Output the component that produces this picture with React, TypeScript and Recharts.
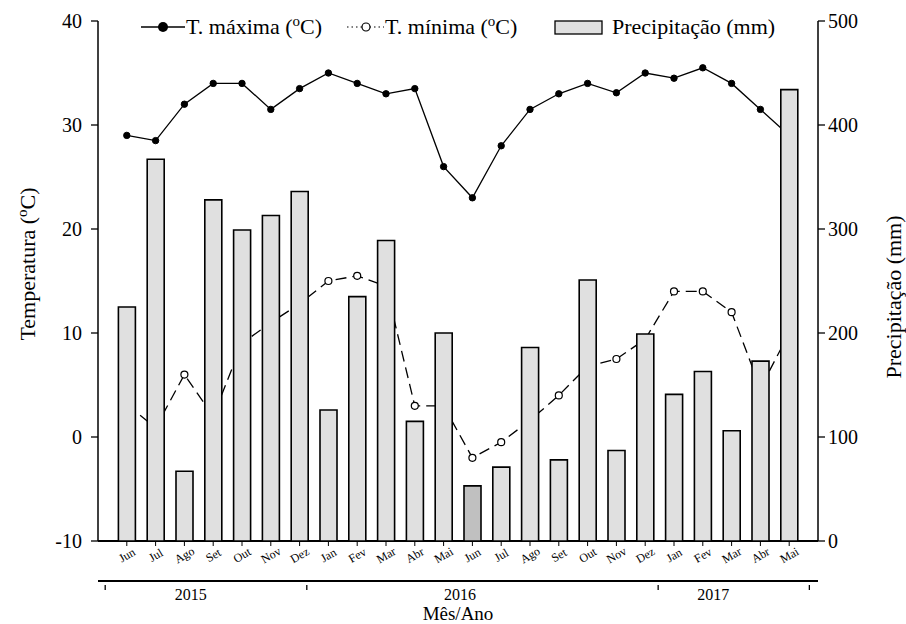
import React from 'react';
import { Bar, Cell, ComposedChart, Label, Line, XAxis, YAxis } from 'recharts';

const FONT = "'Liberation Serif', 'Times New Roman', Times, serif";
const INK = '#000';
const BAR_FILL = '#e0e0e0';
const BAR_FILL_DARK = '#c0c0c0';

const W = 906;
const H = 624;
// plot box shared by both layers
const PLOT = { top: 21, left: 98, right: 88, bottom: 83 };

// Jun/2015 .. Mai/2017, one entry per month
const MONTHS = [
  'Jun', 'Jul', 'Ago', 'Set', 'Out', 'Nov', 'Dez', 'Jan', 'Fev', 'Mar', 'Abr', 'Mai',
  'Jun', 'Jul', 'Ago', 'Set', 'Out', 'Nov', 'Dez', 'Jan', 'Fev', 'Mar', 'Abr', 'Mai',
];
const T_MAX = [
  29.0, 28.5, 32.0, 34.0, 34.0, 31.5, 33.5, 35.0, 34.0, 33.0, 33.5, 26.0,
  23.0, 28.0, 31.5, 33.0, 34.0, 33.1, 35.0, 34.5, 35.5, 34.0, 31.5, 29.0,
];
const T_MIN = [
  3.1, 0.9, 6.0, 2.0, 9.0, 11.0, 12.8, 15.0, 15.5, 14.5, 3.0, 3.0,
  -2.0, -0.5, 1.6, 4.0, 6.8, 7.5, 9.4, 14.0, 14.0, 12.0, 4.7, 10.0,
];
const PRECIP = [
  225, 367, 67, 328, 299, 313, 336, 126, 235, 289, 115, 200,
  53, 71, 186, 78, 251, 87, 199, 141, 163, 106, 173, 434,
];
// Jun/2016 bar is shaded darker
const DARK_BARS = [12];

const TEMP_TICKS = [-10, 0, 10, 20, 30, 40];
const PRECIP_TICKS = [0, 100, 200, 300, 400, 500];

// year band on the lower axis: separator marks and label positions (axis units)
const YEAR_BOUNDS = [0.25, 7.25, 19.45, 24.7];
const YEAR_MIDS = [3.22, 12.57, 21.36];
const YEARS = ['2015', '2016', '2017'];

const data = MONTHS.map((m, i) => ({
  pos: i + 1,
  month: m,
  tmax: T_MAX[i],
  tmin: T_MIN[i],
  precip: PRECIP[i],
}));
const MONTH_TICKS = data.map((d) => d.pos);

function MonthTick({ x, y, payload }: any) {
  return (
    <text
      transform={`translate(${x},${y + 9}) rotate(-30)`}
      textAnchor="middle"
      dy="0.35em"
      fontSize={12}
      fontFamily={FONT}
      fill={INK}
    >
      {MONTHS[payload.value - 1]}
    </text>
  );
}

function YearTick({ x, y, payload }: any) {
  const b = YEAR_BOUNDS.indexOf(payload.value);
  if (b >= 0) {
    return <line x1={x} x2={x} y1={y + 4} y2={y + 9} stroke={INK} strokeWidth={1.3} />;
  }
  const k = YEAR_MIDS.indexOf(payload.value);
  return (
    <text x={x} y={y + 19} textAnchor="middle" fontSize={16} fontFamily={FONT} fill={INK}>
      {YEARS[k]}
    </text>
  );
}

function DegC() {
  return (
    <>
      (<tspan dy={-8} fontSize={15}>o</tspan>
      <tspan dy={8}>C)</tspan>
    </>
  );
}

function LegendRow() {
  return (
    <svg
      width={W}
      height={44}
      style={{ position: 'absolute', left: 0, top: 0, pointerEvents: 'none', fontFamily: FONT }}
      fontSize={22}
    >
      <line x1={141} x2={185} y1={27} y2={27} stroke={INK} strokeWidth={1.3} />
      <circle cx={163} cy={27} r={5} fill={INK} />
      <text x={186} y={34} fill={INK}>
        T. máxima <DegC />
      </text>

      <line x1={347} x2={384} y1={27} y2={27} stroke={INK} strokeWidth={1.2} strokeDasharray="1.5 3" />
      <circle cx={366} cy={27} r={4} fill="#fff" stroke={INK} strokeWidth={1.2} />
      <text x={385} y={34} fill={INK}>
        T. mínima <DegC />
      </text>

      <rect x={555} y={21} width={47} height={13} fill={BAR_FILL} stroke={INK} strokeWidth={1.3} />
      <text x={612} y={34} fill={INK}>
        Precipitação (mm)
      </text>
    </svg>
  );
}

// Axes, titles and the two temperature series.
function TemperatureLayer() {
  return (
    <ComposedChart width={W} height={H} data={data} margin={{ top: PLOT.top, right: 0, bottom: 0, left: 0 }}>
      <XAxis
        xAxisId="m"
        dataKey="pos"
        type="number"
        domain={[0, 25]}
        ticks={MONTH_TICKS}
        interval={0}
        tick={<MonthTick />}
        tickSize={5}
        tickMargin={0}
        height={40}
        axisLine={{ stroke: INK, strokeWidth: 2 }}
        tickLine={{ stroke: INK, strokeWidth: 1 }}
      />
      <XAxis
        xAxisId="yr"
        dataKey="pos"
        type="number"
        domain={[0, 25]}
        ticks={[...YEAR_BOUNDS, ...YEAR_MIDS]}
        interval={0}
        tick={<YearTick />}
        tickLine={false}
        tickSize={0}
        tickMargin={0}
        height={PLOT.bottom - 40}
        axisLine={{ stroke: INK, strokeWidth: 2 }}
      >
        <Label
          content={({ viewBox }: any) => (
            <text
              x={viewBox.x + viewBox.width / 2}
              y={620}
              textAnchor="middle"
              fontSize={19}
              fontFamily={FONT}
              fill={INK}
            >
              Mês/Ano
            </text>
          )}
        />
      </XAxis>
      <YAxis
        yAxisId="t"
        domain={[-10, 40]}
        ticks={TEMP_TICKS}
        interval={0}
        width={PLOT.left}
        tickSize={7}
        tickMargin={9}
        axisLine={{ stroke: INK, strokeWidth: 1.5 }}
        tickLine={{ stroke: INK, strokeWidth: 1.3 }}
        tick={{ fill: INK, fontSize: 20, fontFamily: FONT }}
      >
        <Label
          content={() => (
            <text
              transform="translate(35,264) rotate(-90)"
              textAnchor="middle"
              fontSize={22}
              fontFamily={FONT}
              fill={INK}
            >
              Temperatura <DegC />
            </text>
          )}
        />
      </YAxis>
      <YAxis
        yAxisId="p"
        orientation="right"
        dataKey="precip"
        domain={[0, 500]}
        allowDataOverflow
        ticks={PRECIP_TICKS}
        interval={0}
        width={PLOT.right}
        tickSize={7}
        tickMargin={3}
        axisLine={{ stroke: INK, strokeWidth: 1.5 }}
        tickLine={{ stroke: INK, strokeWidth: 1.3 }}
        tick={{ fill: INK, fontSize: 20, fontFamily: FONT, textAnchor: 'start' }}
      >
        <Label
          content={() => (
            <text
              transform="translate(901,297) rotate(-90)"
              textAnchor="middle"
              fontSize={22}
              fontFamily={FONT}
              fill={INK}
            >
              Precipitação (mm)
            </text>
          )}
        />
      </YAxis>

      <Line
        xAxisId="m"
        yAxisId="t"
        dataKey="tmin"
        name="T. mínima"
        stroke={INK}
        strokeWidth={1.3}
        strokeDasharray="11 6"
        dot={{ r: 3.5, fill: '#fff', stroke: INK, strokeWidth: 1.2, strokeDasharray: '0' }}
        activeDot={false}
        isAnimationActive={false}
      />
      <Line
        xAxisId="m"
        yAxisId="t"
        dataKey="tmax"
        name="T. máxima"
        stroke={INK}
        strokeWidth={1.3}
        dot={{ r: 3.2, fill: INK, stroke: INK, strokeWidth: 1 }}
        activeDot={false}
        isAnimationActive={false}
      />
    </ComposedChart>
  );
}

// Rainfall bars, stacked over the temperature layer so they hide the lines behind them.
function RainLayer() {
  return (
    <ComposedChart
      width={W}
      height={H}
      data={data}
      margin={PLOT}
      style={{ position: 'absolute', left: 0, top: 0, pointerEvents: 'none' }}
    >
      <XAxis dataKey="pos" type="category" padding={{ left: 14.4, right: 14.4 }} hide />
      <YAxis domain={[0, 500]} ticks={PRECIP_TICKS} hide />
      <Bar
        dataKey="precip"
        name="Precipitação"
        barSize={17}
        stroke={INK}
        strokeWidth={1.6}
        isAnimationActive={false}
      >
        {data.map((d, i) => (
          <Cell key={i} fill={DARK_BARS.includes(i) ? BAR_FILL_DARK : BAR_FILL} />
        ))}
      </Bar>
    </ComposedChart>
  );
}

export default function App() {
  return (
    <div style={{ position: 'absolute', left: 0, top: 0, width: W, height: H, background: '#fff', fontFamily: FONT }}>
      <TemperatureLayer />
      <div style={{ position: 'absolute', left: 0, top: 0, width: W, height: H, pointerEvents: 'none' }}>
        <RainLayer />
      </div>
      <LegendRow />
    </div>
  );
}
